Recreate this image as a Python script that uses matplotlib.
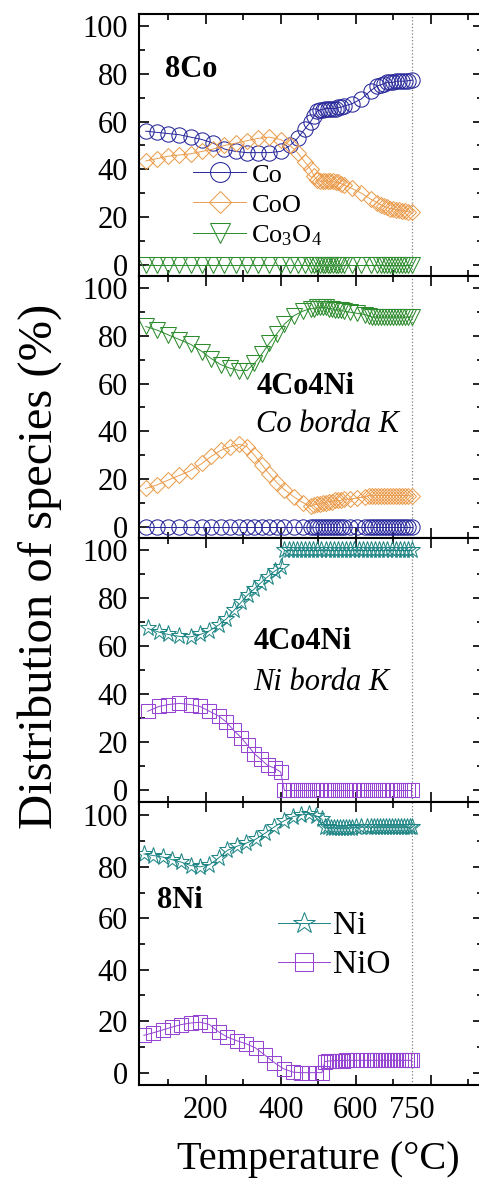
import matplotlib.pyplot as plt
from matplotlib.ticker import FixedLocator, MultipleLocator

plt.rcParams["font.family"] = ["Liberation Serif", "DejaVu Serif"]
plt.rcParams["mathtext.fontset"] = "custom"
plt.rcParams["mathtext.rm"] = "Liberation Serif"
plt.rcParams["mathtext.it"] = "Liberation Serif:italic"
plt.rcParams["mathtext.bf"] = "Liberation Serif:bold"

# Panel 1: 8Co (Co K edge)
T_8CO = [40, 70, 100, 130, 160, 190, 220, 250, 280, 310,
         340, 370, 400, 425, 445, 465, 480, 490, 498, 505,
         512, 519, 526, 533, 540, 547, 554, 561, 568, 590,
         615, 640, 658, 668, 676, 684, 692, 700, 708, 716,
         724, 732, 740, 750]
CO_8CO = [56, 55.5, 55, 54.5, 53.5, 52.5, 51, 48.5, 47.5, 47,
          47, 47, 47.5, 50, 53, 57, 60, 62.5, 64.5, 65,
          65, 65.5, 65.5, 65.5, 65.5, 65.5, 66, 66, 66.5, 67.5,
          69.5, 73, 75, 75.5, 76, 76.5, 76.5, 76.5, 77, 77,
          77, 77, 77.2, 77.4]
COO_8CO = [43.5, 44.5, 45.5, 46, 46.5, 47.5, 48.5, 50, 51, 52,
           53, 53.5, 52.5, 50, 47, 43, 40, 37, 35.5, 35,
           35, 35, 35, 35, 35, 34.5, 34.5, 34, 33.5, 32,
           30, 27.5, 26, 25, 24.5, 24, 23.5, 23.5, 23, 23,
           22.5, 22.5, 22.2, 22]
CO3O4_8CO = [0, 0, 0, 0, 0, 0, 0, 0, 0, 0,
             0, 0, 0, 0, 0, 0, 0, 0, 0, 0,
             0, 0, 0, 0, 0, 0, 0, 0, 0, 0,
             0, 0, 0, 0, 0, 0, 0, 0, 0, 0,
             0, 0, 0, 0]

# Panel 2: 4Co4Ni, Co K edge
T_CO_EDGE = [40, 70, 100, 130, 160, 190, 215, 240, 265, 290,
             310, 330, 350, 370, 390, 410, 435, 460, 480, 488,
             496, 504, 512, 520, 528, 536, 544, 552, 560, 568,
             585, 605, 625, 635, 643, 651, 659, 667, 675, 683,
             691, 699, 707, 715, 723, 731, 739, 750]
CO3O4_CO_EDGE = [84, 82.5, 80.5, 78.5, 76.5, 73.5, 70.5, 68, 66.5, 65.5,
                 65.5, 68.5, 72.5, 77, 81, 85, 88.5, 90.5, 91.5, 91.5,
                 92, 92, 92, 92, 91.5, 91.5, 91, 91, 91, 90.5,
                 90, 89.5, 89, 88.5, 88, 88, 88, 88, 88, 88,
                 88, 88, 88, 88, 88, 88, 88, 88]
COO_CO_EDGE = [16, 17.5, 19.5, 21.5, 23.5, 26.5, 29.5, 32, 33.5, 34.5,
               33.5, 30, 26, 22, 18.5, 15.5, 12.5, 10, 8.5, 9,
               9.5, 9.5, 10, 10, 10.5, 10.5, 11, 11, 11, 11.5,
               11.5, 12, 12.5, 13, 13, 13, 13, 13, 13, 13,
               13, 13, 13, 13, 13, 13, 13, 12.8]
CO_CO_EDGE = [0, 0, 0, 0, 0, 0, 0, 0, 0, 0,
              0, 0, 0, 0, 0, 0, 0, 0, 0, 0,
              0, 0, 0, 0, 0, 0, 0, 0, 0, 0,
              0, 0, 0, 0, 0, 0, 0, 0, 0, 0,
              0, 0, 0, 0, 0, 0, 0, 0]

# Panel 3: 4Co4Ni, Ni K edge
T_NI_EDGE = [45, 75, 100, 130, 160, 185, 210, 235, 255, 275,
             295, 312, 330, 347, 365, 385, 400, 410, 421, 432,
             443, 454, 465, 476, 487, 498, 509, 520, 531, 542,
             553, 564, 575, 586, 597, 608, 619, 630, 641, 652,
             663, 674, 685, 696, 707, 718, 729, 740, 750]
NI_NI_EDGE = [67.5, 66, 65, 64.2, 64, 65, 66.5, 69, 71.5, 75,
              78.5, 81.5, 84, 86.5, 89, 91.5, 93, 100, 100, 100,
              100, 100, 100, 100, 100, 100, 100, 100, 100, 100,
              100, 100, 100, 100, 100, 100, 100, 100, 100, 100,
              100, 100, 100, 100, 100, 100, 100, 100, 100]
NIO_NI_EDGE = [33, 35, 35.8, 36.3, 35.8, 35, 33, 31, 28.5, 25,
               22, 18.8, 15.3, 13, 10.5, 9.2, 7.7, 0, 0, 0,
               0, 0, 0, 0, 0, 0, 0, 0, 0, 0,
               0, 0, 0, 0, 0, 0, 0, 0, 0, 0,
               0, 0, 0, 0, 0, 0, 0, 0, 0]

# Panel 4: 8Ni
T_8NI = [35, 60, 85, 110, 135, 160, 185, 210, 235, 258,
         283, 308, 333, 358, 383, 408, 433, 455, 475, 495,
         510, 518, 526, 534, 542, 550, 558, 566, 574, 582,
         590, 600, 615, 630, 640, 648, 656, 664, 672, 680,
         688, 696, 704, 712, 720, 728, 736, 744, 750]
NI_8NI = [85, 84.4, 83.8, 82.8, 81.8, 80.5, 80, 80.8, 83.5, 86.4,
          88, 89.2, 90.7, 93, 95.5, 97.8, 99.5, 100.2, 100.5, 99.8,
          98.5, 95.5, 95.3, 95.2, 95.2, 95, 95, 95, 95, 95.2,
          95.2, 95.3, 95.5, 95.5, 95.4, 95.4, 95.4, 95.4, 95.4, 95.4,
          95.4, 95.4, 95.4, 95.4, 95.4, 95.4, 95.4, 95.4, 95.4]
NIO_8NI = [14.5, 15.5, 16.6, 17.7, 18.7, 19.3, 19.6, 18.7, 15.8, 13.8,
           12.4, 11.2, 9.6, 6.8, 3.9, 1.5, 0.2, 0, 0, 0,
           0, 4.3, 4.5, 4.6, 4.6, 4.7, 4.7, 4.7, 4.8, 4.8,
           4.8, 4.8, 4.8, 4.8, 4.8, 4.8, 4.8, 4.8, 4.8, 4.8,
           4.8, 4.8, 4.8, 4.8, 4.8, 4.8, 4.8, 4.8, 4.8]

X_MAJOR = [200, 400, 600, 800]
X_MINOR = [100, 300, 500, 700, 900]
X_LABELS = ["200", "400", "600", ""]
END_TEMP = 750

CO_COLOR = "#26269a"
COO_COLOR = "#eb9d4f"
CO3O4_COLOR = "#2d8c2d"
NI_COLOR = "#1f8585"
NIO_COLOR = "#9645d2"

# panel boxes in pixels (top, bottom) of a 479x1180 figure
PANELS = [(14, 276), (276, 538), (538, 802), (802, 1085)]
AX_LEFT, AX_RIGHT = 139, 483
W, H = 479, 1180


def series(ax, x, y, color, marker, ms, label=None):
    line, = ax.plot(x, y, color=color, lw=0.7, marker=marker, ms=ms,
                    mfc="none", mec=color, mew=0.75, label=label)
    return line


def style_axis(ax):
    ax.set_xlim(22, 940)
    ax.set_ylim(-4.8, 105.2)
    ax.xaxis.set_major_locator(FixedLocator(X_MAJOR))
    ax.xaxis.set_minor_locator(FixedLocator(X_MINOR))
    ax.yaxis.set_major_locator(MultipleLocator(20))
    ax.yaxis.set_minor_locator(MultipleLocator(10))
    ax.tick_params(which="both", direction="in", top=True, right=True,
                   width=1.2, labelsize=22)
    ax.tick_params(which="major", length=7)
    ax.tick_params(which="minor", length=4)
    ax.tick_params(axis="y", pad=8)
    ax.tick_params(axis="x", pad=8, labelbottom=False)
    for s in ax.spines.values():
        s.set_linewidth(1.5)
    ax.axvline(END_TEMP, color="gray", ls=":", lw=0.9, zorder=0)


fig = plt.figure(figsize=(W / 100, H / 100), dpi=100)
axes = []
for top, bottom in PANELS:
    ax = fig.add_axes([AX_LEFT / W, 1 - bottom / H,
                       (AX_RIGHT - AX_LEFT) / W, (bottom - top) / H])
    style_axis(ax)
    axes.append(ax)
ax1, ax2, ax3, ax4 = axes

# 8Co
h_co = series(ax1, T_8CO, CO_8CO, CO_COLOR, "o", 11)
h_coo = series(ax1, T_8CO, COO_8CO, COO_COLOR, "D", 8.5)
h_co3o4 = series(ax1, T_8CO, CO3O4_8CO, CO3O4_COLOR, "v", 11)
ax1.legend([h_co, h_coo, h_co3o4], ["Co", "CoO", r"Co$_3$O$_4$"],
           loc="upper left", bbox_to_anchor=(0.158, 0.431), frameon=False,
           fontsize=19, handlelength=2.0, handletextpad=0.2,
           labelspacing=0.25, borderpad=0, borderaxespad=0, markerscale=1.3)
ax1.text(92, 82, "8Co", fontsize=22, fontweight="bold", va="center")

# 4Co4Ni, Co edge
series(ax2, T_CO_EDGE, CO_CO_EDGE, CO_COLOR, "o", 11)
series(ax2, T_CO_EDGE, COO_CO_EDGE, COO_COLOR, "D", 8.5)
series(ax2, T_CO_EDGE, CO3O4_CO_EDGE, CO3O4_COLOR, "v", 11)
ax2.text(335, 59, "4Co4Ni", fontsize=22, fontweight="bold", va="center")
ax2.text(335, 43, "Co borda K", fontsize=22, style="italic", va="center")

# 4Co4Ni, Ni edge
series(ax3, T_NI_EDGE, NI_NI_EDGE, NI_COLOR, "*", 12.5)
series(ax3, T_NI_EDGE, NIO_NI_EDGE, NIO_COLOR, "s", 9.5)
ax3.text(329, 62, "4Co4Ni", fontsize=22, fontweight="bold", va="center")
ax3.text(327, 45, "Ni borda K", fontsize=22, style="italic", va="center")

# 8Ni
h_ni = series(ax4, T_8NI, NI_8NI, NI_COLOR, "*", 12.5)
h_nio = series(ax4, T_8NI, NIO_8NI, NIO_COLOR, "s", 9.5)
ax4.legend([h_ni, h_nio], ["Ni", "NiO"], loc="upper left",
           bbox_to_anchor=(0.405, 0.615), frameon=False, fontsize=24,
           handlelength=1.55, handletextpad=0.1, labelspacing=0.25,
           borderpad=0, borderaxespad=0, markerscale=1.3)
ax4.text(71, 67, "8Ni", fontsize=22, fontweight="bold", va="center")

ax4.tick_params(axis="x", labelbottom=True)
ax4.set_xticklabels(X_LABELS)
ax4.annotate(str(END_TEMP), xy=(END_TEMP, 0), xycoords=("data", "axes fraction"),
             xytext=(0, -8), textcoords="offset points", ha="center", va="top",
             fontsize=22)

fig.text(318 / W, 0.009, "Temperature (°C)", fontsize=29, ha="center",
         va="baseline")
fig.text(0.082, 0.52, "Distribution of species (%)", fontsize=35,
         rotation=90, ha="center", va="center")

fig.savefig("out.png", dpi=100)
